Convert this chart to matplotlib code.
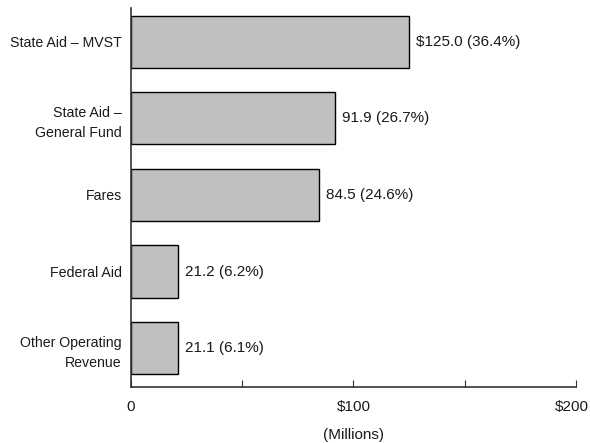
import matplotlib
matplotlib.use("Agg")
import matplotlib.pyplot as plt
from matplotlib.transforms import ScaledTranslation

categories = ["State Aid – MVST", "State Aid –\nGeneral Fund", "Fares", "Federal Aid", "Other Operating\nRevenue"]
values = [125.0, 91.9, 84.5, 21.2, 21.1]
labels = ["$125.0 (36.4%)", "91.9 (26.7%)", "84.5 (24.6%)", "21.2 (6.2%)", "21.1 (6.1%)"]
xticks = [0, 50, 100, 150, 200]
xticklabels = ["0", "", "$100", "", "$200"]

plt.rcParams['font.family'] = ['Liberation Sans', 'DejaVu Sans']
fs = 11
fig = plt.figure(figsize=(5.9, 4.43), dpi=100)
ax = fig.add_axes([0.222, 0.126, 0.754, 0.856])

ypos = list(range(len(categories)))
ax.barh(ypos, values, height=0.68, color="#c0c0c0", edgecolor="black", linewidth=1)
for y, v, l in zip(ypos, values, labels):
    ax.text(v + 3, y, l, va="center", ha="left", fontsize=fs, color="#1a1a1a")

ax.set_ylim(len(categories) - 1 + 0.51, -0.44)
ax.set_xlim(0, 200)
ax.set_yticks(ypos)
ax.set_yticklabels(categories, fontsize=10.2, ha="right", linespacing=1.6, color="#1a1a1a")
ax.tick_params(axis="y", length=0, pad=6.5)
ax.set_xticks(xticks)
ax.set_xticklabels(xticklabels, fontsize=fs, color="#1a1a1a")
ax.tick_params(axis="x", direction="in", length=5, pad=9, color="#333333")
last = ax.get_xticklabels()[-1]
last.set_transform(last.get_transform() + ScaledTranslation(-4/100, 0, fig.dpi_scale_trans))
ax.set_xlabel("(Millions)", fontsize=fs, labelpad=10, color="#1a1a1a")
for s in ["top", "right"]:
    ax.spines[s].set_visible(False)
for s in ["left", "bottom"]:
    ax.spines[s].set_color("#333333")
    ax.spines[s].set_linewidth(1.2)

fig.savefig("out.png", dpi=100)
